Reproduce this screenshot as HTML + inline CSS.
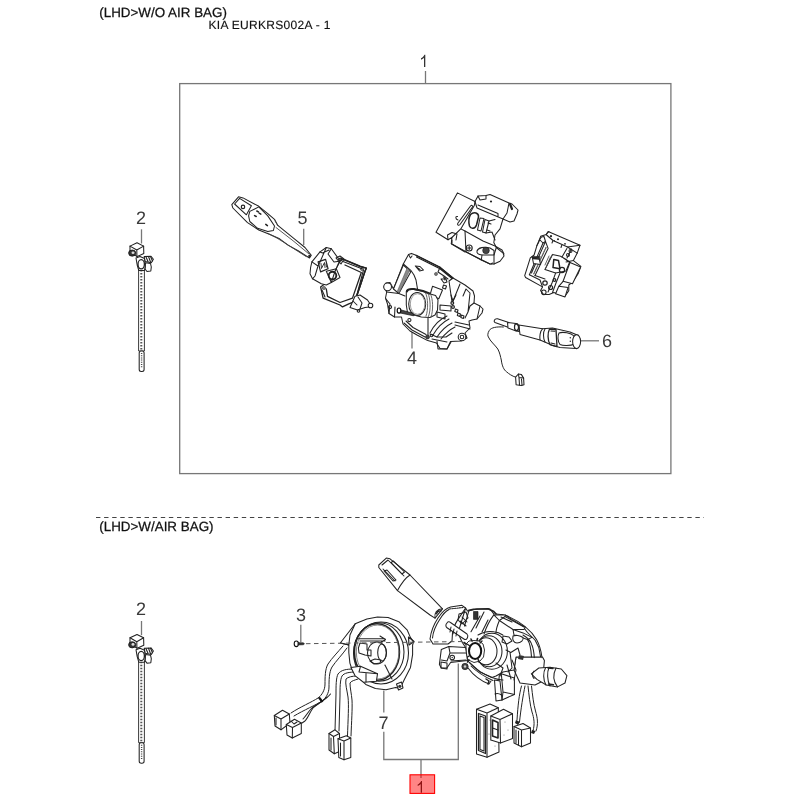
<!DOCTYPE html>
<html><head><meta charset="utf-8">
<style>
html,body{margin:0;padding:0;background:#fff;width:800px;height:800px;overflow:hidden}
svg{position:absolute;left:0;top:0;will-change:transform;filter:blur(0.35px)}
text{font-family:"Liberation Sans",sans-serif;text-rendering:geometricPrecision}
.t{font-size:13.4px;fill:#111;stroke:#111;stroke-width:0.25}
.n{font-size:18px;fill:#3a3a3a}
.l{stroke:#777;stroke-width:1.3;fill:none}
.d{stroke:#222;stroke-width:1.05;fill:none;stroke-linejoin:round;stroke-linecap:round}
.f{stroke:#222;stroke-width:1.05;fill:#fff;stroke-linejoin:round}
</style></head><body>
<svg width="800" height="800" viewBox="0 0 800 800">
<!-- header text -->
<text class="t" x="99.3" y="16.8">(LHD&gt;W/O AIR BAG)</text>
<text x="208.5" y="28.7" style="font-size:12px;letter-spacing:0.3px;fill:#111;stroke:#111;stroke-width:0.15">KIA EURKRS002A - 1</text>

<!-- top box -->
<rect x="179.7" y="83.6" width="491.2" height="390" class="l"/>
<path d="M425.3,67 L425.3,54.8 L424.4,54.8 C423.6,56.5 422.4,57.6 421,58.3 L421,59.8 C422.4,59.2 423.5,58.4 424,57.7 L424,67 Z" style="fill:#333"/>
<line x1="425.5" y1="71" x2="425.5" y2="84" class="l"/>

<!-- separator -->
<line x1="96" y1="517.5" x2="704" y2="517.5" style="stroke:#444;stroke-width:1;stroke-dasharray:4.4 3.7"/>
<text class="t" x="99.3" y="530.7">(LHD&gt;W/AIR BAG)</text>

<!-- bottom bracket -->
<polyline points="383.8,690.5 383.8,712.5" class="l"/>
<text class="n" x="378.5" y="728.6">7</text>
<polyline points="383.8,731.8 383.8,759.5 458.3,759.5 458.3,663.5" class="l"/>
<line x1="421" y1="759.5" x2="421" y2="778" class="l"/>
<path d="M422,792.8 L422,781 L421.1,781 C420.3,782.7 419.1,783.8 417.7,784.5 L417.7,786 C419.1,785.4 420.2,784.6 420.7,783.9 L420.7,792.8 Z" style="fill:#2a2a2a"/>
<rect x="410" y="774.8" width="24.6" height="18.6" style="fill:rgba(255,0,0,0.48);stroke:#ff0000;stroke-width:1.1"/>

<!-- part 2 (cable tie) -->
<g id="p2">
<text class="n" x="136" y="223.7">2</text>
<line x1="141.5" y1="229.3" x2="141.5" y2="243.5" class="l"/>
<!-- strap -->
<rect x="138.6" y="268" width="5.8" height="83" class="f" style="stroke-width:0.9"/>
<line x1="141.3" y1="270" x2="141.3" y2="350" style="stroke:#555;stroke-width:2;stroke-dasharray:1.6 1.4"/>
<rect x="139.2" y="351" width="4.9" height="20.5" rx="2" class="f"/>
<line x1="141.6" y1="353" x2="141.6" y2="368" style="stroke:#444;stroke-width:1.4;stroke-dasharray:1 1.2"/>
<!-- lower bracket -->
<path d="M145.6,262.8 L150.5,263.5 L151.3,267 L150.8,271 L147,271.5 L145,269 Z" class="f"/>
<!-- right wing -->
<path d="M144.2,256.6 L151,256.2 L153.4,259.3 L151.3,262.7 L145.1,261.5 Z" class="f"/>
<path d="M146,257 L148,261.5 M148.5,256.5 L150.5,262 M150.5,256.5 L152.5,261" class="d" style="stroke-width:1.1"/>
<!-- lower oval holder -->
<path d="M136,258 L140,256.6 L144.5,258.5 L145.3,266 L144.5,270.5 L138.8,270.5 L137.2,265 Z" class="f"/>
<ellipse cx="141.2" cy="264.3" rx="3.2" ry="4.6" class="d" style="stroke-width:1.3"/>
<!-- cube -->
<path d="M130,246.1 L137,242.8 L143.6,246.1 L143.8,253.6 L137.2,256.6 L130,252 Z" class="f"/>
<path d="M130,246.1 L136.8,250 L143.6,246.1 M136.8,250 L136.9,256.4" class="d"/>
<ellipse cx="132.2" cy="253.1" rx="3.6" ry="3.1" style="fill:#333;stroke:#111;stroke-width:0.8"/>
<ellipse cx="133" cy="252.7" rx="1.5" ry="1.3" style="fill:#ddd"/>
</g>
<use href="#p2" transform="translate(0,391.7)"/>

<!-- part 5 -->
<g id="p5">
<text class="n" x="297.6" y="224">5</text>
<line x1="303.7" y1="228.8" x2="303.7" y2="245" class="l"/>
<!-- stalk -->
<path d="M231.8,204.6 L238.5,196.8 L243,197.9 L258.8,206.3 L267.8,213.6 L274.5,219.3 L277.8,225.4 L295,239.4 L305,247.5 L311.3,255.3 L309.5,258 L298.1,250.8 L288,245.1 L279,238.4 L270,234.4 L258.8,230 L247.5,222.6 L232.9,208 Z" class="f"/>
<path d="M234.6,204 L239.6,198.4 L251.4,205.8 L246.4,214.8 Z" class="d"/>
<circle cx="243" cy="206.9" r="1.7" class="d" style="stroke-width:1.2"/>
<path d="M249.8,211.4 L258.8,206.9 L267.8,215.9 L274.5,226 L273.4,230.5 L267.8,231.6 L257.6,228.3 L249.8,221.5 L248.6,215.9 Z" class="d"/>
<path d="M256.8,211 l1.6,0.9 M259.2,213.2 l1.6,0.9 M254.6,215.6 l1.6,0.9 M265.8,224.4 l1.6,1.2" class="d" style="stroke-width:1.5"/>
<path d="M276,227.5 L294,241.5 L309,254 M268,233.5 L276,237.5 L285,243 L306,256.5 M275,221 L277.8,225.4" class="d" style="stroke:#444;stroke-width:0.9"/>
<circle cx="309.5" cy="256" r="1.3" style="fill:#222"/>
<!-- body -->
<!-- frame -->
<path d="M320.6,286.9 L323.1,298.1 L340,305 L342.5,306.9 L348.8,303.8 L355,301.3 L365,271.3 L366.3,268.1 L360,266.3 L345,260 L341.3,258.8 L330,280 Z" class="f" style="stroke-width:1.3"/>
<path d="M326.3,288.8 L327.5,296.3 L340,302.5 L352.5,298.1 L361.3,272.5 L345,265" class="d" style="stroke-width:1.3"/>
<path d="M363.5,270 L356,298 M322,290 L325,297 M343,261.5 L362,268.8" class="d"/>
<path d="M341.3,258.8 L345,260 L360,266.3 L366.3,268.1 L365,271.3 L355,301.3" class="d" style="stroke-width:1.5"/>
<!-- lower right protrusion -->
<path d="M355,296.3 L360,295 L367.5,300 L370,303.8 L369,307 L365,307.5 L357.5,310 L350,307.5 Z" class="f"/>
<path d="M358,297 L362,303 L360,309 M353,301 L357,305" class="d"/>
<circle cx="370.5" cy="305.5" r="2.3" class="f"/>
<circle cx="358.5" cy="311" r="1.3" class="d"/>
<circle cx="362" cy="269" r="1.3" class="d"/>
<circle cx="324" cy="288" r="1.3" class="d"/>
<!-- connector block -->
<path d="M310.6,267.5 L311.9,261.9 L320,251.9 L326.3,247.5 L331.3,248.8 L338.1,258.1 L339.4,261.3 L335,271.3 L331.3,282.5 L326.3,285 L321.3,283.8 L312.5,278.8 L310,273.8 Z" class="f"/>
<path d="M311.9,261.9 L318,266 L320,262 L326.3,247.5 M318,266 L315,276 L312.5,278.8 M320,251.9 L322.5,253 L329,250 M331.3,248.8 L328,254 L334,262 L339.4,261.3" class="d"/>
<path d="M318.1,261.9 L325.6,259.4 L328.1,268.8 L320.6,271.9 Z" class="d" style="stroke-width:1.2"/>
<path d="M321,263.5 L321.5,268.5 L324.5,262.5 L325,267.5 M326,264 l0.5,3" class="d" style="stroke-width:0.9"/>
<path d="M326.3,271.3 L336.3,268.8 L340,277.5 L331.3,282.5 Z" class="d"/>
<circle cx="332.5" cy="275.6" r="3.8" class="d" style="stroke-width:1.9"/>
<path d="M336,258 L340,256 L344,259 L341,264 Z" class="d"/>
<circle cx="340.5" cy="259.5" r="1.4" class="d"/>
</g>

<!-- part 4 -->
<g id="p4">
<text class="n" x="406.9" y="363.8">4</text>
<line x1="412" y1="331.5" x2="412" y2="348.5" class="l"/>
<path d="M403.3,264 L408.5,254.5 L411.5,253.4 L416,255.3 L440,267.3 L453,278 L465,285 L473,291 L474.5,296 L474,303 L480,306 L483,309 L482,313 L477,319 L472,320 L469,321 L470,328 L465,333 L467,338 L461,341 L450.5,341.5 L447,349 L440,348.5 L436.5,343 L427.7,340.6 L417,335 L410,331 L403,324 L401.5,317 L394.5,317 L389,313.5 L387.5,304 L385.5,298 L386.7,292 L384,287 L386,283 L390,282.5 L393.5,289 Z" class="f"/>
<!-- top plate -->
<path d="M416,255.3 L440,267.3 L453,278 M416.5,257 L440,268.8 L452,278.5" class="d" style="stroke-width:1.2"/>
<path d="M403.3,264 L410.8,270.3 L414,275 L416,280 L417.5,289" class="d"/>
<path d="M403.3,265 L393.5,289 L398.8,293.5 L410.8,271.8 Z" class="f"/>
<path d="M407.2,267.8 L397.2,291.5 L399.3,292.8 L409.6,270.6 Z" style="fill:#8a8a8a;stroke:#444;stroke-width:0.5"/>
<circle cx="387.6" cy="286.8" r="3.9" class="f"/>
<path d="M415.3,266 L420,266.5 L423.5,270 L419.5,271 Z M417,267.5 l3,2" class="d"/>
<path d="M408.5,254.5 L410.5,258 L412,256 M440,267.3 L438,272 L444,276 L448,279" class="d"/>
<circle cx="436" cy="274" r="1.2" class="d"/>
<path d="M442.5,276 L446,278 L445,281 Z" style="fill:#222"/>
<path d="M441,279 L444,283 L447,282 L446,279 Z M443.5,285 l3,1 l-1,3 l-3,-1z" class="d"/>
<path d="M386.7,292 L398.8,293.5 L405,296 M389,313.5 L390,304 L386,299 M394.5,317 L395,307" class="d"/>
<circle cx="390" cy="307" r="1.6" class="d"/>
<!-- tab above cylinder right -->
<path d="M432.5,286.3 L442.5,290 L438.8,298.8 L430,295 Z" class="f"/>
<!-- cylinder -->
<path d="M406.3,291.3 C407,289 410,289 413.8,289.4 L423,291.3 L429.4,293.8 L435.6,295.6 L438,300 L437.5,310 L435,315 L430,317.5 L421.3,316.9 L413.8,315 L407.5,312.5 L406.3,305 Z" class="f"/>
<path d="M407,291.5 C407.5,289 410,288.7 414,289.1 L423,291 L429.5,293.5" class="d" style="stroke-width:2"/>
<path d="M425.5,293 C428,297 428.5,310 426,316 M428,293.5 C430.5,298 431,310 428.5,316.5 M430.5,294 C433,299 433.5,310 431,317" class="d" style="stroke:#555;stroke-width:0.9"/>
<ellipse cx="417.2" cy="304" rx="8.5" ry="11.5" class="f"/>
<ellipse cx="417.6" cy="304" rx="7.3" ry="10.3" class="d" style="stroke:#888;stroke-width:0.8"/>
<path d="M397.5,309 L413,313.2 L413.5,315.8 L398,312.5 Z" style="fill:#444;stroke:#111;stroke-width:0.7"/>
<ellipse cx="399" cy="310.6" rx="1.8" ry="2.6" style="fill:#fff;stroke:#111;stroke-width:1.2"/>
<circle cx="409.4" cy="320" r="1.6" class="d"/>
<!-- right panel -->
<path d="M453,278 L449,281 L452,302 M460,284 L453,301 M466,289 L470,293 L468,312 L465,318 M474,303 L470,306 L468,312 M480,306 L477,319 M466,289 L463,296" class="d"/>
<circle cx="452.3" cy="303" r="1.4" class="d" style="stroke-width:1.2"/>
<circle cx="453" cy="307" r="1.4" class="d" style="stroke-width:1.2"/>
<path d="M458,313 l2.5,1 l-0.7,2.5 l-2.5,-1 z M461.5,315 l2.5,1 l-0.7,2.5 l-2.5,-1z M455.5,309 l2.5,1 l-0.7,2.5 l-2.5,-1z" class="d"/>
<!-- lower arms -->
<path d="M437,312 L445,314 L445,319 L437,317 Z M440,305 L451,306 L451,311 L440,310 Z" class="d"/>
<path d="M428,318 L428,335 M404,323 L412,330 L425,337 M406,321 L413,327.5 L426,334.5" class="d"/>
<path d="M430,333 C434,325 440,319 447,316 M433,335 C437,328 443,322 449,319 M437,337 C441,331 446,326 452,323 M441,339 C445,334 449,330 455,327" class="d"/>
<path d="M455,325 L470,329 M455,322 L469,325" class="d"/>
<path d="M430,334 L437,337 L446,337 L452,333 M432,339 L447,342" class="d"/>
<circle cx="462" cy="337" r="3.8" class="f"/>
<circle cx="462" cy="337" r="1.8" class="d"/>
<circle cx="427.5" cy="337" r="2" style="fill:#444;stroke:#111;stroke-width:0.6"/>
<circle cx="431.5" cy="335.5" r="1.3" class="d"/>
<path d="M437,341 L438,349 L447,349 L451,342" class="d"/>
<path d="M451,295 L453,301 M456,295 L453,301" class="d"/>
</g>

<!-- top-right module A -->
<g id="pA">
<path d="M457.4,192.9 L475,201.5 L478,196 L486,195.5 L490,194.5 L509,203 L512,204 L518,210 L517,214 L514,221 L510,222 L503,219 L500,228.8 L495,235 L493.8,242.5 L496.3,247.5 L503.1,253.1 L504,256 L500,261.3 L494,264 L490,264 L481.3,260 L451.3,243.8 L451.9,237.5 L448,239.8 L436,232.3 Z" class="f"/>
<path d="M475,201.5 L474.3,205.6 L460.8,228.9 L451.9,237.5 M460.8,228.9 L465,231 L483,241 L495,246 L502,250 L504,254" class="d"/>
<path d="M457.8,223.3 L470.5,206 C472,204.5 473,206 472.5,207 L460,224.5 C458.5,226 457,225 457.8,223.3 Z" class="d"/>
<path d="M458,220 C455,219 455.5,216 457.5,216.5" class="d"/>
<path d="M448,239.8 L447.5,235 L452,232.5 L457,234 L456,240 M452,240 l0,3" class="d"/>
<path d="M477,208 L503,219 M478,205 L498,213.5 L498,216 M475,201.5 L477,208 M478,196 L480,200 L486,199 L486,195.5 M503,219 L507,213 L509,203" class="d"/>
<circle cx="491" cy="201.5" r="1.1" style="fill:#222"/>
<path d="M510,204 L512,209" class="d" style="stroke-width:2.2"/>
<path d="M470.5,214.5 C474,211 479,213 478.5,217 L476.5,225 C475,229 471,229.5 469.5,226 C468.5,222 469,217 470.5,214.5 Z" class="d" style="stroke-width:1.5"/>
<path d="M480,218 L484,218.5 L481,231 L477.5,230 Z M485,219.5 L489,221 L486,233 L482.5,232 Z" class="d"/>
<path d="M489,221 L495,219.5 M492,232 L495,240 M486,233 L492,232 M488,223 l3,1 M487,230 l3,1" class="d"/>
<path d="M465,231 L466,252 L490,264 M451.3,243.8 L465,252" class="d"/>
<circle cx="469.2" cy="248" r="3" class="d" style="stroke-width:1.1"/>
<path d="M467.5,248 h3.4 M469.2,246.3 v3.4" class="d"/>
<path d="M477,251 C478,247.5 484,246.5 490,248 L494,250.5 L494,255 L482,255 C478,254.5 476.5,253 477,251 Z" class="d"/>
<circle cx="486" cy="250.5" r="3.3" style="fill:#444;stroke:#111;stroke-width:0.6"/>
<path d="M494,255 L496.3,247.5 M482,255 L481.3,260 M494,255 L494,264 M491,264 l1.5,-1" class="d"/>
</g>

<!-- top-right module B -->
<g id="pB">
<path d="M548.1,231.6 L580,245.2 L577.2,253.1 L573.4,260.6 L580.9,266.3 L578.1,273.8 L572.5,282.2 L568.8,285 L568.8,290.6 L565,296.3 L553.8,292.5 L549.1,294.4 L543.4,294.4 L540.6,290.6 L542.5,286.9 L525.6,277.5 L524.7,275.6 L530.3,257.8 L534.1,255 L536.9,245.6 L538.8,241.9 L540.6,236.3 L546.3,234.4 Z" class="f"/>
<!-- top plate -->
<path d="M546,234.5 L553,240.5 L562,244.5 L567.5,247 L577.2,253.1 M549,231.5 L546,234.5 M553,240.5 L552,243 M562,244.5 L561,247.5" class="d"/>
<path d="M567.5,247 L580,245.2" class="d"/>
<circle cx="551" cy="236.2" r="1.1" style="fill:#222"/>
<circle cx="558" cy="239.3" r="1" style="fill:#222"/>
<circle cx="554.2" cy="240.8" r="0.8" style="fill:#222"/>
<circle cx="565" cy="243.8" r="0.9" style="fill:#222"/>
<!-- left hump -->
<path d="M536.9,245.6 L539.5,239.5 L541.5,236.9 L544,236.5 L545.5,241.5 L543,243 M539.5,239.5 L543,243 L545.5,241.5" class="d"/>
<!-- rail -->
<path d="M543,243 L529.4,274.7 M545.5,241.5 L548.1,248.4 L535,275.6 M545.5,241.5 L531.5,273" class="d"/>
<path d="M546,247.5 L533.5,274.5" class="d" style="stroke:#555;stroke-width:1.3;stroke-dasharray:1 1"/>
<path d="M532.2,257 L539,258 L540.6,264.4 L533.5,263.5 Z" class="f"/>
<path d="M532.2,257 L540,257 M533,258.5 L539.3,259" class="d" style="stroke-width:1.4"/>
<!-- central block -->
<path d="M552.5,254.4 L560.6,256.3 L563.8,258.1 L569.7,262 L566,271 L555.6,273.1 L545,269.4 Z" class="f"/>
<path d="M552.5,254.4 L545,269.4 M550.5,257 L547,265 M549,256 l-4,9" class="d" style="stroke:#444;stroke-width:0.8"/>
<path d="M553.8,259.4 L558.5,260.5 L560,268.8 L553,267.5 Z" class="d" style="stroke-width:1.5"/>
<circle cx="562" cy="270" r="2.6" class="d" style="stroke-width:1.2"/>
<!-- right box -->
<path d="M570,262.5 L580.6,266.9 L572.5,283.8 L563.1,281.3 Z" class="f"/>
<path d="M566,262 L573.4,260.6 M563.8,258.1 L570,262.5" class="d"/>
<circle cx="570.5" cy="251" r="1.5" class="d"/>
<circle cx="568" cy="255" r="1.5" class="d"/>
<path d="M566.9,248.4 L562,257 M571.5,249 L567,258" class="d"/>
<!-- lower middle -->
<path d="M555.6,273.1 L552,283 L548,292 M560,273 L556,283 L552.5,292.5 M563.1,281.3 L558.8,286.3" class="d"/>
<path d="M558.8,286.3 L568.1,287.5 L565,296.9 L555.6,293.8 Z" class="f"/>
<circle cx="545" cy="283" r="2.2" class="d" style="stroke-width:1.2"/>
<circle cx="550.6" cy="287.5" r="2" class="d" style="stroke-width:1.2"/>
<circle cx="543.8" cy="292.3" r="2.3" class="d"/>
<path d="M529.4,274.7 L540,280 L542.5,286.9 M535,275.6 L545,279" class="d"/>
<circle cx="554.5" cy="280" r="1.3" class="d" style="stroke-width:1.2"/>
</g>

<!-- part 6 -->
<g id="p6">
<text class="n" x="602" y="346.5">6</text>
<line x1="581" y1="340.8" x2="599" y2="340.8" class="l"/>
<path d="M503.4,327 C497,326.5 491,327.5 489.4,330.3 C487.5,333 487.5,336 488.4,337 C490,341 495,345 497.8,349 C500,353 500.5,357 501.3,360 C502,366 504,370 506.3,371.6 C509,374 512,376 515.6,377.2" class="d" style="stroke-width:1"/>
<path d="M515.6,377.2 L518.4,374 L521.3,374.4 L523.6,378.1 L524,384.7 L521.3,385.6 L516.1,384.7 Z" class="f"/>
<path d="M518.4,374 L519,377.5 L523.6,378.1 M519,377.5 L519.5,385 M521.5,379 L522,385" class="d"/>
<path d="M497.5,318.8 L508.8,322.5 L508.8,327.5 L495,322.5 C493.5,321.5 494,318.5 497.5,318.8 Z" class="f"/>
<path d="M518.8,325 L542.5,328.8 L552.5,328.1 L570,331.9 L576,334.5 L580,338.8 L579.5,345 L576,348.6 L560,347.5 L552.5,345.6 L548.8,343.8 L540,340 L520,334.4 Z" class="f"/>
<path d="M507.5,322.5 L516,323.5 L519,326 L519,331.5 L516,331 L508,328 Z" class="f"/>
<ellipse cx="516.5" cy="327.2" rx="2" ry="3.5" class="d" style="stroke-width:1.2"/>
<path d="M542.5,328.8 C540,331 539.5,337 540,340 M545,329 C543,332 543,338 545,342" class="d"/>
<path d="M549.5,329 L556,329.5 L557,346.5 L550,344.5 C547.5,340 547.5,333 549.5,329 Z" class="d" style="stroke-width:1.3"/>
<path d="M551,331 L555,331.3 M551,343 L555,344" class="d"/>
<path d="M559,333 C563,331.5 571,333 574,336 L575,344 C570,346 563,346 560,344.5 C557.5,341 557.5,336 559,333 Z" class="d"/>
<circle cx="570.3" cy="337.8" r="0.7" style="fill:#222"/>
<circle cx="570.3" cy="341.3" r="0.7" style="fill:#222"/>
<ellipse cx="576.6" cy="341.6" rx="4" ry="7" class="f"/>
</g>

<!-- clock spring (7) -->
<g id="p7">
<!-- wires behind -->
<path d="M343,646 C338,652 332,658 328,664 C325,669 325,678 325,684 C325,690 322,695 318,698 C312,702 300,707 291,713" class="d" style="stroke-width:1"/>
<path d="M347,648 C342,655 336,661 332,667 C329,672 329,681 329,687 C329,693 326,698 322,701 C316,705 304,710 294,716" class="d" style="stroke-width:1"/>
<path d="M330.5,694 C326,700 318,703 313,708 C310,712 308,718 305,721 L302,723" class="d"/>
<path d="M327,697 C322,702 315,705 311,709 C308,712 306,716 303,719" class="d"/>
<path d="M319,697.5 L322.5,702" style="stroke:#111;stroke-width:2.2"/>
<path d="M354,669 C346,669 341,670 338,674 C336,678 336,686 336,694 L335,731" class="d" style="stroke-width:1"/>
<path d="M356,672 C349,672 344,673 342,676 C340,680 340,688 340,696 L339,731" class="d" style="stroke-width:1"/>
<path d="M357,676 C352,676 348,677 346,679 C345,684 347,690 348,697 C349,705 348,720 347.5,736" class="d" style="stroke-width:1"/>
<path d="M358,679 C355,680 351,681 350,683 C350,688 351.5,694 352,700 C352.5,708 351.5,722 351,736" class="d" style="stroke-width:1"/>
<!-- connectors -->
<path d="M274.3,715.5 L282.5,710.3 L289.3,714 L290,723 L281,729.8 L275,726 Z" class="f"/>
<path d="M274.3,715.5 L281,719 L289.3,714 M281,719 L281,729.8 M276,718 L276,725" class="d"/>
<path d="M286.3,724.5 L294.5,719.3 L301.3,723 L301.3,733.5 L292.3,738 L287,735 Z" class="f"/>
<path d="M286.3,724.5 L292.5,727.5 L301.3,723 M292.5,727.5 L292.3,738 M291,721 L294,724 L297,722" class="d"/>
<path d="M329,733.5 L335,729.8 L339.5,733.5 L339.5,751.5 L334.3,753.8 L329,750 Z" class="f"/>
<path d="M329,733.5 L333.5,736.5 L339.5,733.5 M333.5,736.5 L334.3,753.8 M331,738 L331,750" class="d"/>
<path d="M338,738.8 L346.3,735.8 L350.8,738 L350.8,757.5 L344,759.8 L338.8,757.5 Z" class="f"/>
<path d="M338,738.8 L344,741 L350.8,738 M344,741 L344,759.8 M340.5,743 L340.5,756" class="d"/>
<!-- body -->
<path d="M340.3,643 L355.2,623.8 L366.9,619 L377.5,616.9 L388.1,617.4 L398.8,621.7 L407.3,630.2 L410.5,637.6 L413.6,641.9 L412.6,645 L412.6,654.6 L410.5,667.4 L404.1,680.1 L402,684.4 L400.9,688.6 L395.6,687.6 L386,689.7 L375.4,688.6 L365.8,684.4 L356.3,675.9 L352,669.5 L349.9,663.1 L348.8,652.5 L348.8,645 Z" class="f"/>
<ellipse cx="381" cy="653" rx="27.5" ry="31" class="d"/>
<ellipse cx="379" cy="652" rx="25" ry="29.2" class="d"/>
<ellipse cx="377" cy="652" rx="22.5" ry="28.3" class="d" style="stroke-width:1.5"/>
<ellipse cx="377.6" cy="652" rx="21.3" ry="27" class="d" style="stroke:#666;stroke-width:0.8"/>
<path d="M340.3,643 L348.8,645 M355.2,623.8 L350,635 L348.8,645" class="d"/>
<path d="M408.5,637 L414,641.5 L409,645 Z" class="d" style="stroke-width:1.2"/>
<path d="M396.5,684 L401.5,682 L403,688 L398.5,690 Z" class="f"/>
<circle cx="399.8" cy="686.3" r="1.6" style="fill:#333"/>
<!-- hub -->
<path d="M358.4,648 L360,643 L367,644 L367,650 L371,650 L371,656 L365,655 L359,653 Z" class="d"/>
<ellipse cx="377" cy="653" rx="9.5" ry="11" class="d"/>
<ellipse cx="382" cy="652.5" rx="4.3" ry="8.5" class="d"/>
<path d="M370,661 L374,664 L380,663 L381,660 L375,659 Z" class="d" style="stroke-width:1.1"/>
<path d="M358.4,638.7 L385,638.7 M360,641 L385,641 M380,636 L385.5,639.5 L380,643" class="d"/>
<path d="M385,665 L392,679" class="d"/>
<!-- flat connector -->
<path d="M351,667.4 L360.5,666.3 L377.5,673.8 L376.4,681.2 L363.7,682.3 L355.2,675.9 Z" class="f"/>
<path d="M360.5,666.3 L359,672 L377.5,673.8 M366,673 L366,682" class="d"/>
</g>

<!-- bottom right assembly -->
<g id="pR">
<!-- connectors and wires below -->
<path d="M521.5,686 C519,695 518,705 517,720" class="d" style="stroke-width:1"/>
<path d="M525,686 C523,696 521,708 519.5,722" class="d" style="stroke-width:1"/>
<path d="M528,686 C529,695 530,705 532,712 C534,718 535,724 533,731" class="d" style="stroke-width:1"/>
<path d="M531.5,686 C532.5,695 533.5,704 535.5,711 C537.5,718 538.5,724 536,731" class="d" style="stroke-width:1"/>
<path d="M516,720 L520,722 L518,725 L515,723 Z M532,730 L535.5,731 L534,734 L531,733 Z" style="fill:#222"/>
<!-- E tall connector -->
<path d="M476.5,709.3 L490,704 L498.3,707.8 L499,752 L487,757.3 L476.5,754 Z" class="f"/>
<path d="M476.5,709.3 L487,713 L498.3,707.8 M487,713 L487,757.3" class="d"/>
<path d="M478.5,713.5 L485.5,716 L485.5,753.5 L478.5,750.5 Z" class="d" style="stroke-width:1.3"/>
<path d="M480,716 L484,717.5 L484,751 L480,749.5 Z" class="d"/>
<g style="fill:#666"><circle cx="490" cy="720" r=".5"/><circle cx="494" cy="728" r=".5"/><circle cx="491" cy="740" r=".5"/><circle cx="495" cy="746" r=".5"/><circle cx="492" cy="710" r=".5"/><circle cx="489" cy="734" r=".5"/></g>
<!-- F connector -->
<path d="M490.8,716 L503.5,709.3 L512.5,713.8 L512.5,738.5 L500.5,743 L490.8,740 Z" class="f"/>
<path d="M490.8,716 L500,719.5 L512.5,713.8 M500,719.5 L500.5,743" class="d"/>
<path d="M492.5,720 L498,722.5 L498,738 L492.5,736 Z" class="d" style="stroke-width:1.6"/>
<path d="M492.5,728 L498,730" class="d" style="stroke-width:1.2"/>
<g style="fill:#666"><circle cx="505" cy="722" r=".5"/><circle cx="508" cy="730" r=".5"/><circle cx="504" cy="735" r=".5"/></g>
<!-- G connector -->
<path d="M514,726.5 L523,723.5 L530.5,728 L530.5,743 L521.5,746.8 L514,743 Z" class="f"/>
<path d="M514,726.5 L521.5,730 L530.5,728 M521.5,730 L521.5,746.8 M516,730 L516,743 M518.5,731 L518.5,745" class="d"/>
<!-- lower rod + box -->
<path d="M499.4,673.8 L501.3,673.8 L514.4,678 L514.4,694.4 L502,700 L497.5,699 Z" class="f"/>
<path d="M494.5,680 L500,681 L502,700 L496,701 Z" class="f"/>
<path d="M495,694 C497,693 500,694 501.5,695" class="d"/>
<path d="M501.3,673.8 L503,692 L514.4,694.4 M503,692 L502,700" class="d"/>
<!-- right block + knob -->
<path d="M516,657 L542.5,657 L544.4,660.6 L542.5,681.3 L535,685 L520,683 L514,670 Z" class="f"/>
<path d="M531.3,673.8 L538.8,668 L550,667.2 L561.3,669 L566.9,675.6 L565,683 L557.5,686.9 L546.3,685 L536.9,679.4 Z" class="f"/>
<path d="M534,671 C532,673 532,677 534,678.5 M545.5,668 C543,672 543,680 546,685 M549,667.5 C547,672 547,680 550,686 M556,668 C553,674 553,681 557.5,686.9" class="d"/>
<path d="M548,668 l5,0.5 M548.5,684 l5,0.8" class="d" style="stroke-width:1.4"/>
<!-- main body -->
<path d="M465.6,608 L467.5,611 L476.9,609 L490,609 L493.8,613.8 L503,614.7 L512.5,621.3 L523.8,627.8 L527.5,632.5 L535,640 L538.8,647.5 L540.6,657 L516,657 L514,670 L503,672 L496,676 L491.9,677.5 L480,672 L469.4,662.5 L467.5,660.6 L465.6,647.5 L462,642 L458,633 Z" class="f"/>
<path d="M469,610.4 L473.5,609.3 L488,608.7 L493.8,611.5 L496,613.8" class="d" style="stroke-width:1.6"/>
<path d="M493.8,614.9 L505,614.9 L511.8,619.4 L525.3,627.3 L524,629.5 L513,629.5 L499.4,620.5 Z" class="f"/>
<path d="M499.4,620.5 L505,616.5 L524,627 M501,617 L512,622" class="d"/>
<path d="M513,629.5 L523,632.9 L532,637.4 L527.5,639.6 L514,635 Z" class="f"/>
<path d="M505,614.9 C517,620 530,628 536.5,639.6 C539,644 541,650 542,657.6" class="d"/>
<path d="M523,635 C528,638 531,641 532,645.3 C533.5,649 534,653 534.3,657.6 M527.5,639.6 C530,643 531,648 531.5,657" class="d"/>
<path d="M473.5,611.5 L478,611.5 L478,619.4 L473.5,619.4 Z" style="fill:#333;stroke:#111;stroke-width:0.6"/>
<path d="M469,610.4 L464.5,626 M480,616 L471,631.8 M484,612 L476,628 M488,620 L482,632" class="d"/>
<path d="M478,635 C483,632 489,631 493.8,631.8 C497,632 500,633 502.8,635" class="d"/>
<path d="M493.8,614.9 C490,620 486,628 484,634 M499.4,620.5 C497,626 496,630 496,633" class="d"/>
<path d="M513,636 C515,635 520,635 523,637.5 C524,640 521,643 517,643 C514,643 512,640 513,636 Z" class="f"/>
<!-- cylinder -->
<ellipse cx="491.9" cy="651.3" rx="15.5" ry="18" class="f"/>
<ellipse cx="489" cy="651.3" rx="13" ry="15.5" class="d"/>
<ellipse cx="486" cy="651.3" rx="11" ry="13.5" class="d"/>
<path d="M466,644 L469,641 L474,640.5 L479,641 L483,644 L484.5,650 L483.5,657 L480,661 L474,662.5 L468.5,660 L466,656 Z" style="fill:#fff;stroke:#333;stroke-width:1"/>
<path d="M466,644 l-2,-1.5 M465.5,649 l-2.5,0 M466,655 l-2.5,1 M469,660 l-1.5,2 M472,641 l-1,-2 M477,640.5 l0.5,-2" class="d" style="stroke-width:1.6"/>
<ellipse cx="475.1" cy="651" rx="6.1" ry="7.9" style="fill:#fff;stroke:#111;stroke-width:2"/>
<path d="M470,646 l-3,-2 M469,656 l-3,2 M478,659 l1,3 M480,643 l2,-2" class="d" style="stroke-width:1.4"/>
<path d="M503,636 L509,637 L512,641 L507,644 L502,642 Z" class="d"/>
<path d="M506,650 L510,652 L512,668 L508,672 M510,653 L518,648 L520,655" class="d"/>
<path d="M519,655 L524,656 L523,660 L518,659 Z" style="fill:#333"/>
<path d="M512,660 L516,670 L514,680 M507,665 L511,679" class="d"/>
<path d="M496,663 L503,668 L500,676" class="d"/>
<!-- bottom arcs -->
<path d="M469.4,662.5 C476,670 483,674 491.9,677.5 C496,679 499,680 503,680 M471,666 C478,673 485,677 493,680.5" class="d"/>
<path d="M468,668 C474,676 481,681 489,684 L491,681" class="d"/>
<path d="M486,679 l3,2 l-1,3" class="d" style="stroke-width:1.5"/>
<!-- bracket arc -->
<path d="M430,639 C431,631 434,624 438,618 C442,612 446,608 450.6,607 L461.9,605.3 L465.6,608 L458,619.4 C455,624 453,629 452.5,633 L452,641 L448,644 L433,644 Z" class="f"/>
<path d="M432.5,638 C433,632 436,625 440,619 C443,614 446,611 449,609.5" class="d"/>
<path d="M449.5,609 L463,607.5" class="d" style="stroke-dasharray:1.5 1"/>
<!-- lever rod -->
<path d="M447,623 C447.5,621.5 449.5,621.5 450.5,622.5 L467,634 C469,636 467,640 464.7,639.5 L447,627.8 C445.5,626.5 445.5,624.5 447,623 Z" class="f"/>
<path d="M451,627 l-1,5 M454,629 l-1,5 M457,631 l-1,5" class="d"/>
<path d="M459,614 L466,612 L468,618 L462,624 L458,620 Z" class="d"/>
<path d="M460,621 L466,626 M462,617 L467,622" class="d"/>
<!-- left switch -->
<path d="M441.3,649.4 L448.8,646.6 L465.6,647.5 L467.5,660.6 L450.6,662.5 L446.9,668 L441.3,668 L439.4,664.4 Z" class="f"/>
<path d="M448.8,646.6 L450,653 L447,661 L441.3,660 M450,653 L465.6,653 M451,661 L466,660" class="d"/>
<circle cx="452.2" cy="657.5" r="2.3" class="d"/>
<circle cx="452.2" cy="657.5" r="0.7" style="fill:#222"/>
<path d="M441,662 L447,663 L447,669 L441,668 Z" class="d"/>
<circle cx="465" cy="666.5" r="3.2" style="fill:#444;stroke:#111;stroke-width:0.6"/>
<circle cx="465" cy="666.5" r="1.2" style="fill:#ccc"/>
<!-- stalk -->
<path d="M378.8,565 L386.3,558.1 L390,558.8 L410,575 L442.5,608.8 L435,618.1 L430,615 L397.5,590.6 L378.8,567.5 Z" class="f"/>
<path d="M397.5,590.6 C401,584 405,578 410,575" class="d"/>
<path d="M382,565 L388,560 L398,570 M383,569 L395,581 M390,562 L404,576" class="d"/>
<path d="M384,571 L393,581 L396,580 L387,570 Z M391,562.5 L402,574 L404.5,572 L393.5,561 Z" class="d"/>
<path d="M435,618.1 C434,613 437,609 442.5,608.8 M436.5,614 C437.5,611 439,610.5 441,611" class="d"/>
</g>

<!-- label 3 -->
<text class="n" x="296" y="621.3">3</text>
<line x1="300.8" y1="624.7" x2="300.8" y2="642" class="l"/>
<ellipse cx="296.3" cy="643.8" rx="2.1" ry="2.8" style="fill:#fff;stroke:#111;stroke-width:1.1"/>
<path d="M298,642.6 L303.5,642.8 L304.5,643.8 L303.5,644.8 L298,645 Z" style="fill:#333;stroke:#111;stroke-width:0.5"/>
<line x1="306" y1="643.7" x2="465" y2="641.5" style="stroke:#555;stroke-width:1;stroke-dasharray:4.5 3.5"/>

</svg>
</body></html>
